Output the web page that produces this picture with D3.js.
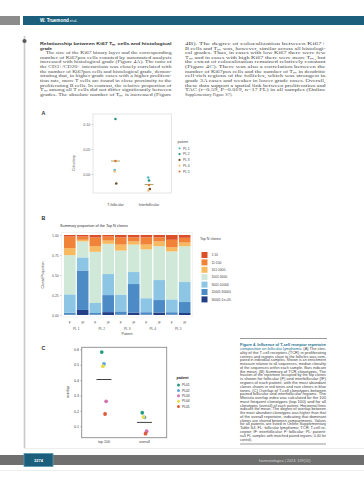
<!DOCTYPE html>
<html><head><meta charset="utf-8">
<script src="https://cdn.jsdelivr.net/npm/d3@7"></script>
<style>html,body{margin:0;padding:0;background:#fff;}svg{display:block;}</style>
</head><body>
<script>
// ---------------- DATA ----------------
const patientsA = ["PL 1","PL 2","PL 3","PL 4","PL 5"];
const regionsA = ["T-follicular","Interfollicular"];
const follicularA = [0.008, 0.110, -0.019, 0.005, 0.026];
const interfollicularA = [-0.007, -0.013, -0.030, -0.033, -0.022];
const ticksA = [0.00, 0.05, 0.10];
const colorsA = ["#4fbcc8","#2a9282","#6b4f2a","#f2c27e","#e07436"];

const patientsB = ["PL 1","PL 2","PL 3","PL 4","PL 5"];
const regionsB = ["F","IF"];
const cloneGroups = ["1:10","11:100","101:1000","1001:3000","3001:10000","10001:30000","30001:1e+05"];
const cloneColors = ["#dc5029","#f08338","#f8ba60","#cfe8d8","#8cc6e4","#4d8bc6","#233f86"];
// values per bar: PL1 F, PL1 IF, PL2 F, PL2 IF, ... PL5 IF
const top1_10 = [0.020,0.020,0.030,0.020,0.030,0.030,0.030,0.030,0.060,0.035];
const top11_100 = [0.144,0.040,0.110,0.050,0.090,0.050,0.090,0.050,0.095,0.060];
const top101_1000 = [0.088,0.020,0.070,0.040,0.075,0.040,0.060,0.060,0.050,0.045];
const top1001_3000 = [0.490,0.200,0.640,0.378,0.550,0.343,0.610,0.423,0.600,0.448];
const top3001_10000 = [0.230,0.163,0.125,0.263,0.210,0.150,0.175,0.250,0.160,0.250];
const top10001_30000 = [0.025,0.494,0.020,0.213,0.040,0.356,0.030,0.156,0.030,0.137];
const top30001_1e5 = [0.003,0.063,0.005,0.036,0.005,0.031,0.005,0.031,0.005,0.025];
const ticksB = [0, 0.25, 0.5, 0.75, 1];
const tickLabelsB = ["0.00","0.25","0.50","0.75","1.00"];

const patientsC = ["PL01","PL02","PL03","PL04","PL05"];
const setsC = ["top 100","overall"];
const top100C = [0.582, 0.505, 0.262, 0.490, 0.180];
const overallC = [0.188, 0.158, 0.068, 0.160, 0.052];
const ticksC = [0.1,0.2,0.3,0.4,0.5,0.6];
const colorsC = ["#2a9d80","#5aa5dc","#d373b0","#e9dc4a","#dc5a3a"];

const leftText = [
 ["Relationship between Ki67 T\u2098 cells and histological", true, true],
 ["grade", true, false],
 ["\u2003The size of the Ki67 binary layer and the corresponding", false, true],
 ["number of Ki67pos cells counted by automated analysis", false, true],
 ["increased with histological grade (Figure 4A). The ratio of", false, true],
 ["the CD3+/CD20+ interactions was closely correlated with", false, true],
 ["the number of Ki67pos cells and histological grade, demon-", false, true],
 ["strating that, in higher grade cases with a higher prolifera-", false, true],
 ["tion rate, more T cells are found in close proximity to the", false, true],
 ["proliferating B cells. In contrast, the relative proportion of", false, true],
 ["T\u2098 among all T cells did not differ significantly between", false, true],
 ["grades. The absolute number of T\u2098 is increased (Figure", false, true]
];
const rightText = [
 ["4B). The degree of colocalization between Ki67+", false, true],
 ["B cells and T\u2098 was, however, similar across all histologi-", false, true],
 ["cal grades. Thus, in cases with low Ki67 there were few", false, true],
 ["T\u2098 and in cases with high Ki67 there were more T\u2098, but", false, true],
 ["the extent of colocalization remained relatively constant", false, true],
 ["(Figure 4C). There was also a correlation between the", false, true],
 ["number of Ki67pos cells and the number of T\u2098 in dendritic", false, true],
 ["cell-rich regions of the follicles, which was strongest in", false, true],
 ["grade 3A cases and weaker in lower grade cases. Overall,", false, true],
 ["these data support a spatial link between proliferation and", false, true],
 ["TAC (r=0.59, P=0.019, n=17 FL) in all samples (Online", false, true],
 ["Supplementary Figure S7).", false, false]
];
const captionText = [
 "Figure 4. Influence of T-cell receptor repertoire",
 "composition on follicular lymphoma. (A) The clon-",
 "ality of the T-cell receptors (TCR) in proliferating",
 "centres and regions close to the follicles was com-",
 "pared in individual samples. Shown is an enrichment",
 "measure relative to all sequences, median clonality",
 "of the sequences within each sample. Bars indicate",
 "the mean. (B) Summary of TCR clonotypes. The",
 "fraction of the repertoire occupied by the top clones",
 "is shown for follicular (F) and interfollicular (IF)",
 "regions of each patient, with the most abundant",
 "clones shown in red tones and rare clones in blue",
 "tones. (C) Overlap of T-cell clonotypes between",
 "paired follicular and interfollicular regions. The",
 "Morisita overlap index was calculated for the 100",
 "most frequent clonotypes (top 100) and for all",
 "clonotypes (overall) of each patient. Horizontal lines",
 "indicate the mean. The degree of overlap between",
 "the most abundant clonotypes was higher than that",
 "of the overall repertoire, indicating that dominant",
 "clones are shared between compartments. Values",
 "for all patients are listed in Online Supplementary",
 "Table S4. FL: follicular lymphoma; TCR: T-cell re-",
 "ceptor; IF: interfollicular; F: follicular; PL: patient;",
 "n=5 FL samples with matched paired regions; 0.40 for",
 "control)."
];

// ---------------- DRAW ----------------
const W = 364, H = 480;
const svg = d3.select("body").append("svg").attr("width", W).attr("height", H)
  .style("font-family", "'Liberation Sans', Arial, sans-serif");
const teal = "#1b5f7c";

// header
svg.append("rect").attr("x",0).attr("y",16).attr("width",20).attr("height",9).attr("fill","#8c8c8c");
svg.append("rect").attr("x",23).attr("y",16).attr("width",341).attr("height",9).attr("fill",teal);
const ht = svg.append("text").attr("x",40).attr("y",22.4).attr("fill","#fff")
  .attr("font-size",4.6).attr("font-weight","bold");
ht.append("tspan").text("W. Truemond");
ht.append("tspan").attr("font-size",3.4).attr("font-weight","normal").text(" et al.");

// margin line and rules
svg.append("line").attr("x1",24.5).attr("x2",24.5).attr("y1",36).attr("y2",448)
  .attr("stroke","#cacaca").attr("stroke-width",1.6);
svg.append("circle").attr("cx",24.5).attr("cy",41).attr("r",2.1).attr("fill","#5a5a5a");
svg.append("line").attr("x1",24).attr("x2",364).attr("y1",448.5).attr("y2",448.5).attr("stroke","#e2e2e2").attr("stroke-width",0.6);
svg.append("line").attr("x1",0).attr("x2",364).attr("y1",470.5).attr("y2",470.5).attr("stroke","#e2e2e2").attr("stroke-width",0.6);

// footer
svg.append("rect").attr("x",0).attr("y",455).attr("width",364).attr("height",10).attr("fill","#6f6f6f");
svg.append("rect").attr("x",24).attr("y",453.5).attr("width",29).attr("height",13).attr("fill",teal)
  .attr("stroke","#5a9ab3").attr("stroke-width",0.8);
svg.append("text").attr("x",38.5).attr("y",461.5).attr("text-anchor","middle").attr("fill","#fff")
  .attr("font-size",4).attr("font-weight","bold").text("3274");
svg.append("text").attr("x",259).attr("y",461.5).attr("fill","#d6d6d6").attr("font-size",3.8)
  .text("haematologica | 2024; 109(10)");

// body text
function textBlock(lines, x, y0, step, width, size, family) {
  lines.forEach((l, i) => {
    const t = svg.append("text").attr("x", x).attr("y", y0 + i * step)
      .attr("font-size", size).attr("fill", l[1] ? "#333" : "#4a4a4a")
      .style("font-family", l[1] ? "'Liberation Sans', Arial, sans-serif" : family)
      .attr("font-weight", l[1] ? "bold" : "normal").text(l[0]);
    if (l[2]) t.attr("textLength", width).attr("lengthAdjust", "spacingAndGlyphs");
  });
}
textBlock(leftText, 40, 44.9, 4.64, 131.5, 4.4, "'Liberation Serif', serif");
textBlock(rightText, 185, 44.9, 4.64, 140.5, 4.4, "'Liberation Serif', serif");

// panel labels
[["A",115],["B",220],["C",349.5]].forEach(d => svg.append("text").attr("x",41.5).attr("y",d[1])
  .attr("font-size",5.4).attr("font-weight","bold").attr("fill","#333").text(d[0]));

// ---------------- PANEL A ----------------
const gA = svg.append("g");
const yA = d3.scaleLinear().domain([0, 0.10]).range([174, 124]);
const xA = d3.scalePoint().domain(regionsA).range([93, 171.5]).padding(0.67);
gA.append("rect").attr("x",93).attr("y",114).attr("width",78.5).attr("height",79)
  .attr("fill","none").attr("stroke","#d4d4d4").attr("stroke-width",0.6);
const axA = gA.append("g").attr("transform","translate(93,0)")
  .call(d3.axisLeft(yA).tickValues(ticksA).tickFormat(d3.format(".2f")).tickSize(1.2).tickPadding(1.5));
axA.select(".domain").remove();
axA.selectAll("line").attr("stroke","#777").attr("stroke-width",0.4);
axA.selectAll("text").attr("font-size",3.6).attr("fill","#555").style("font-family","'Liberation Sans', Arial, sans-serif");
gA.append("text").attr("transform","translate(75,163) rotate(-90)").attr("text-anchor","middle")
  .attr("font-size",3.6).attr("fill","#444").text("Coloc/exp");
regionsA.forEach(r => gA.append("text").attr("x",xA(r)).attr("y",205.5).attr("text-anchor","middle")
  .attr("font-size",3.6).attr("fill","#444").text(r));
const seriesA = [follicularA, interfollicularA];
seriesA.forEach((vals, k) => {
  const cx = xA(regionsA[k]);
  const m = d3.mean(vals);
  gA.append("line").attr("x1",cx-4.5).attr("x2",cx+4.5).attr("y1",yA(m)).attr("y2",yA(m))
    .attr("stroke","#8a8a30").attr("stroke-width",0.7);
  vals.forEach((v, i) => gA.append("circle").attr("cx", cx + ((i % 3) - 1) * 0.8).attr("cy", yA(v))
    .attr("r",1.3).attr("fill", colorsA[i]));
});
// legend A
gA.append("text").attr("x",177.5).attr("y",143).attr("font-size",3.5).attr("fill","#444").text("patient");
patientsA.forEach((p, i) => {
  const y = 148.3 + i * 5.8;
  gA.append("circle").attr("cx",179.5).attr("cy",y).attr("r",1.1).attr("fill",colorsA[i]);
  gA.append("text").attr("x",183).attr("y",y+1.2).attr("font-size",3.3).attr("fill","#444").text(p);
});

// ---------------- PANEL B ----------------
const gB = svg.append("g");
gB.append("text").attr("x",60).attr("y",226.5).attr("font-size",3.8).attr("fill","#333")
  .text("Summary proportion of the Top N clones");
gB.append("rect").attr("x",61.5).attr("y",232.5).attr("width",131).attr("height",84.5)
  .attr("fill","none").attr("stroke","#ececec").attr("stroke-width",0.6);
const yB = d3.scaleLinear().domain([0,1]).range([315,235]);
const xB = d3.scaleBand().domain(patientsB).range([63.5,191]).paddingInner(0).paddingOuter(0);
const xB2 = d3.scaleBand().domain(regionsB).range([0, xB.bandwidth()]).paddingInner(0.1).paddingOuter(0.04);
const seriesB = [top1_10, top11_100, top101_1000, top1001_3000, top3001_10000, top10001_30000, top30001_1e5];
const rowsB = [];
patientsB.forEach((p, pi) => regionsB.forEach((r, ri) => {
  const idx = pi * 2 + ri;
  const row = {patient: p, region: r};
  cloneGroups.forEach((g, gi) => row[g] = seriesB[gi][idx]);
  rowsB.push(row);
}));
const stackKeys = cloneGroups.slice().reverse();
const stacked = d3.stack().keys(stackKeys)(rowsB);
const colB = d3.scaleOrdinal().domain(cloneGroups).range(cloneColors);
stacked.forEach(layer => {
  gB.append("g").attr("fill", colB(layer.key)).selectAll("rect").data(layer).join("rect")
    .attr("x", d => xB(d.data.patient) + xB2(d.data.region))
    .attr("width", xB2.bandwidth())
    .attr("y", d => yB(d[1]))
    .attr("height", d => Math.max(0, yB(d[0]) - yB(d[1])));
});
const axB = gB.append("g").attr("transform","translate(61.5,0)")
  .call(d3.axisLeft(yB).tickValues(ticksB).tickFormat((d,i) => tickLabelsB[i]).tickSize(1.2).tickPadding(1.5));
axB.select(".domain").remove();
axB.selectAll("line").attr("stroke","#777").attr("stroke-width",0.4);
axB.selectAll("text").attr("font-size",3.5).attr("fill","#555").style("font-family","'Liberation Sans', Arial, sans-serif");
gB.append("text").attr("transform","translate(43.8,275) rotate(-90)").attr("text-anchor","middle")
  .attr("font-size",3.5).attr("fill","#444").text("Clonal Proportion");
rowsB.forEach(d => gB.append("text").attr("x", xB(d.patient) + xB2(d.region) + xB2.bandwidth()/2)
  .attr("y",324.3).attr("text-anchor","middle").attr("font-size",3.2).attr("fill","#555").text(d.region));
patientsB.forEach(p => gB.append("text").attr("x", xB(p) + xB.bandwidth()/2).attr("y",329.5)
  .attr("text-anchor","middle").attr("font-size",3.3).attr("fill","#555").text(p));
gB.append("text").attr("x",127).attr("y",334.6).attr("text-anchor","middle").attr("font-size",3.5)
  .attr("fill","#444").text("Patient");
// legend B
gB.append("text").attr("x",200).attr("y",240).attr("font-size",3.6).attr("fill","#444").text("Top N clones");
cloneGroups.forEach((g, i) => {
  const y = 255 + i * 7.4;
  gB.append("rect").attr("x",201.5).attr("y",y-3).attr("width",6).attr("height",6).attr("fill",colB(g));
  gB.append("text").attr("x",211.5).attr("y",y+1.2).attr("font-size",3.3).attr("fill","#444").text(g);
});

// ---------------- PANEL C ----------------
const gC = svg.append("g");
const yC = d3.scaleLinear().domain([0, 0.6]).range([441.7, 349.3]);
const xC = d3.scalePoint().domain(setsC).range([81.7, 166.7]).padding(0.55);
gC.append("rect").attr("x",81.7).attr("y",347.3).attr("width",85).attr("height",90.4)
  .attr("fill","none").attr("stroke","#8c8c8c").attr("stroke-width",0.9);
const axC = gC.append("g").attr("transform","translate(81.7,0)")
  .call(d3.axisLeft(yC).tickValues(ticksC).tickFormat(d3.format(".1f")).tickSize(1.3).tickPadding(1.3));
axC.select(".domain").remove();
axC.selectAll("line").attr("stroke","#666").attr("stroke-width",0.5);
axC.selectAll("text").attr("font-size",3.7).attr("fill","#444").style("font-family","'Liberation Sans', Arial, sans-serif");
gC.append("text").attr("transform","translate(68.5,392) rotate(-90)").attr("text-anchor","middle")
  .attr("font-size",3.7).attr("fill","#333").text("overlap");
setsC.forEach(s => gC.append("text").attr("x",xC(s)).attr("y",442.5).attr("text-anchor","middle")
  .attr("font-size",3.6).attr("fill","#444").text(s));
[top100C, overallC].forEach((vals, k) => {
  const cx = xC(setsC[k]);
  const m = d3.mean(vals);
  gC.append("line").attr("x1",cx-7.5).attr("x2",cx+7.5).attr("y1",yC(m)).attr("y2",yC(m))
    .attr("stroke","#111").attr("stroke-width",0.8);
  vals.forEach((v, i) => gC.append("circle").attr("cx", cx + ((i * 2) % 5 - 2) * 1.1).attr("cy", yC(v))
    .attr("r",1.9).attr("fill", colorsC[i]));
});
// legend C
gC.append("text").attr("x",176.5).attr("y",378.5).attr("font-size",3.7).attr("font-weight","bold")
  .attr("fill","#222").text("patient");
patientsC.forEach((p, i) => {
  const y = 385 + i * 5.4;
  gC.append("circle").attr("cx",178.5).attr("cy",y).attr("r",1.5).attr("fill",colorsC[i]);
  gC.append("text").attr("x",182).attr("y",y+1.2).attr("font-size",3.3).attr("fill","#333").text(p);
});

// ---------------- CAPTION ----------------
svg.append("line").attr("x1",240).attr("x2",327).attr("y1",338.5).attr("y2",338.5).attr("stroke","#555").attr("stroke-width",0.6);
svg.append("line").attr("x1",240).attr("x2",326).attr("y1",444).attr("y2",444).attr("stroke","#9a9a9a").attr("stroke-width",1.2);
captionText.forEach((l, i) => {
  const t = svg.append("text").attr("x",240).attr("y",346.3 + i * 3.77).attr("font-size",3.35)
    .attr("fill", i === 0 ? "#1a6f8c" : "#444");
  if (i === 0) t.attr("font-weight","bold");
  if (i === 1) {
    t.append("tspan").attr("fill","#1a6f8c").text("composition on follicular lymphoma.");
    t.append("tspan").text(l.replace("composition on follicular lymphoma.", ""));
  } else t.text(l);
  if (i < captionText.length - 1) t.attr("textLength", 86).attr("lengthAdjust","spacingAndGlyphs");
});
</script>
</body></html>
